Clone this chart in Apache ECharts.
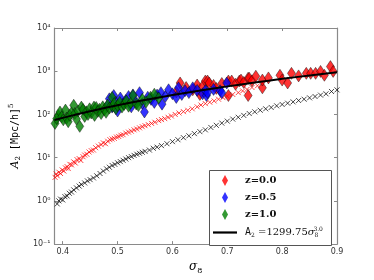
<!DOCTYPE html>
<html><head><meta charset="utf-8">
<script src="https://cdn.jsdelivr.net/npm/echarts@6/dist/echarts.min.js"></script>
<style>html,body{margin:0;padding:0;background:#fff}#c{width:374px;height:280px}</style>
</head><body><div id="c"></div>
<script>
// ---- data: [sigma8, A2] ----
const redCross = [[0.386,3.5],[0.388,4.2],[0.39,3.8],[0.393,4.6],[0.396,4.3],[0.399,5.2],[0.402,4.9],[0.405,5.8],[0.408,6.2],[0.41,5.6],[0.413,7.0],[0.416,6.8],[0.42,8.0],[0.423,7.5],[0.426,9.0],[0.43,9.5],[0.433,8.6],[0.437,10.5],[0.44,11.5],[0.444,12],[0.448,13.5],[0.452,14.5],[0.456,15],[0.46,17],[0.465,18.5],[0.47,20],[0.474,22],[0.478,21],[0.482,24],[0.486,26],[0.49,27],[0.494,28],[0.498,30],[0.502,31],[0.506,33],[0.51,34],[0.515,37],[0.52,39],[0.525,41],[0.53,44],[0.535,46],[0.54,49],[0.545,52],[0.55,55],[0.556,58],[0.562,62],[0.568,66],[0.575,72],[0.58,76],[0.586,80],[0.592,86],[0.598,92],[0.605,100],[0.612,108],[0.62,116],[0.628,125],[0.636,135],[0.645,150],[0.652,165],[0.66,178],[0.668,192],[0.676,205],[0.684,225],[0.692,245],[0.70,265],[0.71,290],[0.72,320],[0.728,350],[0.736,380],[0.745,420],[0.755,460]];
const blackCross = [[0.39,0.85],[0.393,1.0],[0.396,1.1],[0.40,1.05],[0.404,1.25],[0.408,1.3],[0.412,1.5],[0.416,1.6],[0.42,1.8],[0.425,2.0],[0.43,2.2],[0.434,2.4],[0.44,2.6],[0.445,2.9],[0.45,3.1],[0.456,3.4],[0.462,3.8],[0.468,4.3],[0.474,4.9],[0.48,5.5],[0.485,6.0],[0.49,6.6],[0.495,7.0],[0.50,7.6],[0.505,8.1],[0.51,8.7],[0.515,9.3],[0.52,10],[0.525,10.6],[0.53,11.3],[0.535,12],[0.54,12.6],[0.545,13.3],[0.55,14],[0.558,15],[0.565,16.5],[0.572,17.5],[0.58,19],[0.59,21],[0.60,23.5],[0.61,26],[0.62,29],[0.63,32],[0.64,36],[0.65,40],[0.66,44],[0.67,50],[0.68,56],[0.69,63],[0.70,70],[0.71,78],[0.72,86],[0.73,95],[0.74,105],[0.75,115],[0.76,125],[0.77,135],[0.78,145],[0.79,158],[0.80,170],[0.81,182],[0.82,195],[0.83,210],[0.84,225],[0.85,242],[0.86,260],[0.87,280],[0.88,300],[0.89,340],[0.90,370]];
const z00 = [[0.607,330],[0.614,535],[0.625,420],[0.637,372],[0.645,480],[0.65,290],[0.655,450],[0.66,592],[0.664,592],[0.667,535],[0.675,470],[0.68,400],[0.69,520],[0.702,274],[0.702,592],[0.708,592],[0.715,500],[0.722,592],[0.725,624],[0.73,550],[0.738,274],[0.738,690],[0.74,690],[0.745,600],[0.752,766],[0.764,413],[0.764,624],[0.775,700],[0.796,806],[0.8,624],[0.81,535],[0.817,893],[0.83,780],[0.844,893],[0.852,893],[0.861,893],[0.87,990],[0.877,806],[0.888,1280],[0.893,990]];
const z05 = [[0.48,150],[0.485,230],[0.49,148],[0.493,274],[0.497,190],[0.5,120],[0.505,240],[0.51,175],[0.515,210],[0.52,260],[0.525,150],[0.528,283],[0.533,200],[0.54,319],[0.545,180],[0.549,114],[0.555,250],[0.561,223],[0.567,190],[0.572,280],[0.579,319],[0.581,173],[0.587,260],[0.593,372],[0.6,300],[0.607,247],[0.611,413],[0.617,290],[0.623,354],[0.63,320],[0.637,413],[0.645,360],[0.655,300],[0.66,354],[0.662,274],[0.664,319],[0.675,380],[0.687,354],[0.69,319],[0.699,535]];
const z10 = [[0.386,62],[0.389,80],[0.392,95],[0.395,114],[0.398,88],[0.401,75],[0.405,126],[0.407,82],[0.41,68],[0.413,95],[0.416,110],[0.42,163],[0.422,105],[0.425,78],[0.428,120],[0.431,53],[0.434,148],[0.437,130],[0.44,90],[0.443,115],[0.446,100],[0.449,135],[0.452,108],[0.457,148],[0.458,95],[0.461,145],[0.464,118],[0.467,132],[0.47,105],[0.473,150],[0.476,128],[0.479,112],[0.482,165],[0.485,140],[0.49,247],[0.491,155],[0.494,180],[0.497,135],[0.5,160],[0.504,190],[0.508,148],[0.512,170],[0.516,205],[0.52,155],[0.524,185],[0.528,274],[0.534,174],[0.538,160],[0.545,225],[0.552,195],[0.56,250],[0.567,294],[0.575,240]];
const fitSigma = [0.385,0.42,0.45,0.5,0.55,0.6,0.65,0.7,0.75,0.8,0.85,0.9];
const fitValue = [74.2,96.3,118.4,162.5,216.3,280.7,356.9,445.8,548.3,665.5,798.2,947.5];
const xTicks = [0.4,0.5,0.6,0.7,0.8,0.9];
const yTickText = {'-1':'10⁻¹','0':'10⁰','1':'10¹','2':'10²','3':'10³','4':'10⁴'};

const fitLine = fitSigma.map((s,i)=>[s,fitValue[i]]);
const crossPath = 'path://M0,0L10,10M10,0L0,10';
const axisGray = '#8a8a8a';
const chart = echarts.init(document.getElementById('c'));
const xCommon = {type:'value',min:0.385,max:0.9,splitLine:{show:false},
  axisLine:{lineStyle:{color:axisGray,width:1.2}},
  axisTick:{inside:true,length:3,customValues:xTicks,lineStyle:{color:axisGray}}};
const yCommon = {type:'log',logBase:10,min:0.1,max:10000,splitLine:{show:false},
  axisLine:{show:true,lineStyle:{color:axisGray,width:1.2}},
  axisTick:{inside:true,length:3,lineStyle:{color:axisGray}}};
chart.setOption({
  animation:false,
  grid:{left:47,right:37,top:28,bottom:28},
  xAxis:[Object.assign({},xCommon,{position:'bottom',
      axisLabel:{customValues:xTicks,fontSize:8,color:'#333',margin:4,fontFamily:'DejaVu Sans'},
      name:'{s|σ}{sub|8}',nameLocation:'middle',nameGap:13,
      nameTextStyle:{rich:{s:{fontSize:12,fontFamily:'DejaVu Serif',fontStyle:'italic',color:'#000'},sub:{fontSize:8,fontFamily:'DejaVu Serif',color:'#000',padding:[8,0,0,0]}}}}),
    Object.assign({},xCommon,{position:'top',axisLabel:{show:false}})],
  yAxis:[Object.assign({},yCommon,{position:'left',
      axisLabel:{fontSize:8,color:'#333',margin:4,fontFamily:'DejaVu Sans',
        formatter:v=>yTickText[String(Math.round(Math.log10(v)))]||''},
      name:'{a|A}{sub|2}{t| [Mpc/h]}{sup|5}',nameLocation:'middle',nameGap:26,nameRotate:90,
      nameTextStyle:{rich:{a:{fontSize:11,fontFamily:'DejaVu Serif',fontStyle:'italic',color:'#000'},
        sub:{fontSize:7,fontFamily:'DejaVu Serif',color:'#000',padding:[6,0,0,0]},
        t:{fontSize:10,fontFamily:'DejaVu Sans Mono',color:'#000'},
        sup:{fontSize:7,fontFamily:'DejaVu Serif',color:'#000',padding:[0,0,8,0]}}}}),
    Object.assign({},yCommon,{position:'right',axisLabel:{show:false}})],
  legend:[{orient:'vertical',left:222,top:175,padding:0,itemWidth:6,itemHeight:11,itemGap:6,z:6,
      data:['z=0.0','z=0.5','z=1.0'],itemStyle:{borderWidth:0},
      textStyle:{fontSize:10,fontFamily:'DejaVu Serif',fontWeight:'bold',color:'#111',padding:[0,0,0,12]}},
    {orient:'vertical',left:213,top:226,padding:0,itemWidth:24,itemHeight:10,z:6,
      data:[{name:'fit',icon:'path://M0,0L24,0L24,2.2L0,2.2Z'}],
      itemStyle:{color:'#000',borderWidth:0},lineStyle:{width:0},
      formatter:()=>'{a|A}{s|2}{b| =1299.75}{g|σ}{s|8}{p|3.0}',
      textStyle:{padding:[0,0,0,3],rich:{a:{fontSize:10,fontFamily:'DejaVu Sans Mono',color:'#111'},
        s:{fontSize:6,fontFamily:'DejaVu Serif',color:'#111',padding:[5,0,0,0]},
        b:{fontSize:10,fontFamily:'DejaVu Serif',color:'#111'},
        g:{fontSize:10,fontFamily:'DejaVu Serif',fontStyle:'italic',color:'#111'},
        p:{fontSize:6,fontFamily:'DejaVu Serif',color:'#111',padding:[0,0,7,-5]}}}}],
  graphic:[{type:'rect',left:209,top:170,z:5,shape:{width:122,height:75},
    style:{fill:'#fff',stroke:'#555',lineWidth:1}}],
  series:[
    {type:'scatter',name:'rx',data:redCross,symbol:crossPath,symbolSize:5,z:2,
      itemStyle:{color:'transparent',borderColor:'rgba(255,0,0,0.9)',borderWidth:1}},
    {type:'scatter',name:'kx',data:blackCross,symbol:crossPath,symbolSize:5,z:2,
      itemStyle:{color:'transparent',borderColor:'rgba(0,0,0,0.9)',borderWidth:1}},
    {type:'scatter',name:'z=0.0',data:z00,symbol:'diamond',symbolSize:[8,12],z:3,
      itemStyle:{color:'#ff0000',borderColor:'#000',borderWidth:0.5}},
    {type:'scatter',name:'z=0.5',data:z05,symbol:'diamond',symbolSize:[8,12],z:3,
      itemStyle:{color:'#0000ff',borderColor:'#000',borderWidth:0.5}},
    {type:'scatter',name:'z=1.0',data:z10,symbol:'diamond',symbolSize:[8,12],z:3,
      itemStyle:{color:'#008000',borderColor:'#000',borderWidth:0.5}},
    {type:'line',name:'fit',data:fitLine,smooth:true,symbol:'none',z:4,
      lineStyle:{color:'#000',width:2},itemStyle:{color:'#000'}}
  ]
});
</script></body></html>
